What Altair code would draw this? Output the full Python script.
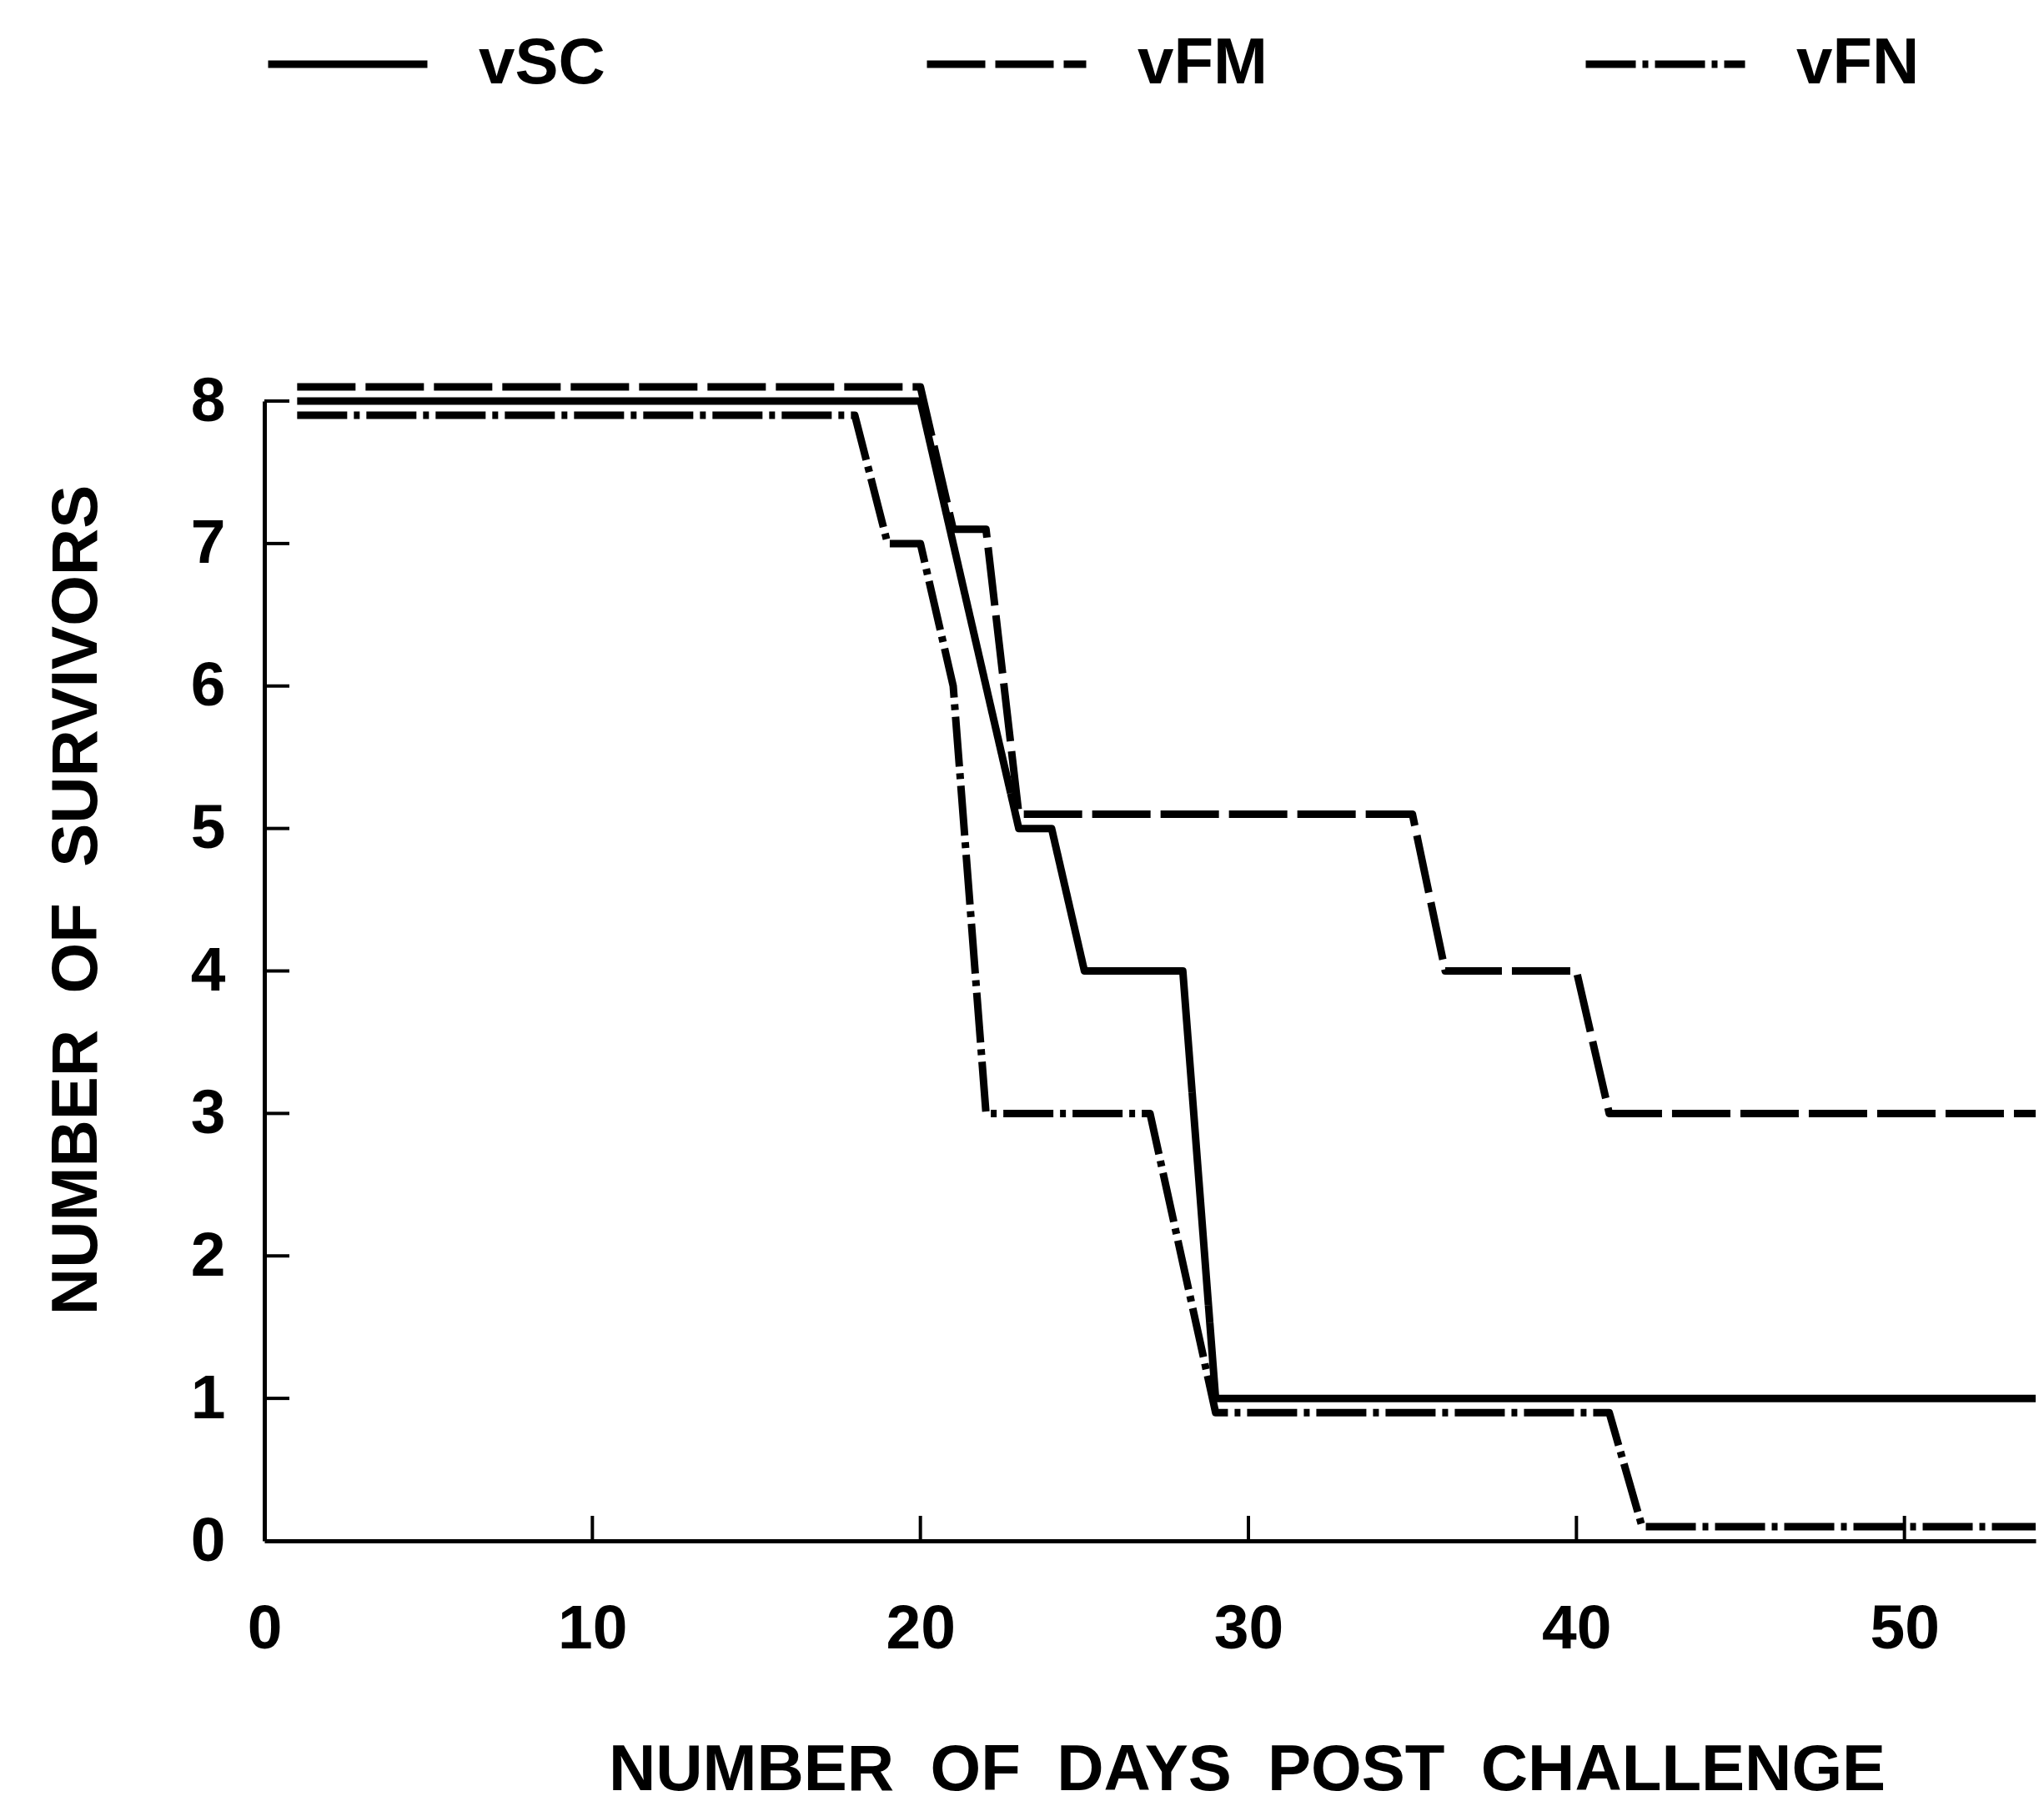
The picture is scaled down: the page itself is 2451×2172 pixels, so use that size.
import altair as alt
import pandas as pd

# ---- data ----
series_names = ["vSC", "vFM", "vFN"]

vsc_days = [1, 20, 23, 24, 25, 28, 29, 54]
vsc_vals = [8.0, 8.0, 5.0, 5.0, 4.0, 4.0, 1.0, 1.0]

vfm_days = [1, 20, 21, 22, 23, 35, 36, 40, 41, 54]
vfm_vals = [8.1, 8.1, 7.1, 7.1, 5.1, 5.1, 4.0, 4.0, 3.0, 3.0]

vfn_days = [1, 18, 19, 20, 21, 22, 27, 29, 41, 42, 54]
vfn_vals = [7.9, 7.9, 7.0, 7.0, 6.0, 3.0, 3.0, 0.9, 0.9, 0.1, 0.1]

x_tick_values = [0, 10, 20, 30, 40, 50]
y_tick_values = [0, 1, 2, 3, 4, 5, 6, 7, 8]

rows = []
for name, days, vals in [("vSC", vsc_days, vsc_vals),
                         ("vFM", vfm_days, vfm_vals),
                         ("vFN", vfn_days, vfn_vals)]:
    for d, v in zip(days, vals):
        rows.append({"series": name, "day": d, "survivors": v})
df = pd.DataFrame(rows)

FONT = "Liberation Sans"
W, H = 2124, 1367
x_scale = alt.Scale(domain=[0, 54], nice=False, zero=False)
y_scale = alt.Scale(domain=[0, 8], nice=False)

x_axis = alt.Axis(values=x_tick_values, ticks=False, grid=False,
                  domainColor="black", domainWidth=5,
                  labelFont=FONT, labelFontSize=75, labelFontWeight="bold",
                  labelColor="black", labelBaseline="top", labelPadding=69,
                  labelFlush=False, labelOverlap=False,
                  title="NUMBER\u00a0\u00a0OF\u00a0\u00a0DAYS\u00a0\u00a0POST\u00a0\u00a0CHALLENGE",
                  titleFont=FONT, titleFontSize=78, titleFontWeight="bold",
                  titleColor="black", titleX=1178, titleY=298,
                  titleAlign="center", titleBaseline="alphabetic")
y_axis = alt.Axis(values=y_tick_values, ticks=False, grid=False,
                  domainColor="black", domainWidth=5,
                  labelFont=FONT, labelFontSize=75, labelFontWeight="bold",
                  labelColor="black", labelPadding=47,
                  labelFlush=False, labelOverlap=False,
                  title="NUMBER\u00a0\u00a0OF\u00a0\u00a0SURVIVORS",
                  titleFont=FONT, titleFontSize=78, titleFontWeight="bold",
                  titleColor="black", titleAngle=270, titleX=-202, titleY=598,
                  titleAlign="center", titleBaseline="alphabetic")

lines = alt.Chart(df).mark_line(
    color="black", strokeWidth=9, strokeJoin="round", strokeCap="butt"
).encode(
    x=alt.X("day:Q", scale=x_scale, axis=x_axis),
    y=alt.Y("survivors:Q", scale=y_scale, axis=y_axis),
    strokeDash=alt.StrokeDash(
        "series:N",
        scale=alt.Scale(domain=series_names,
                        range=[[1, 0], [70, 12], [60, 8, 7, 8]]),
        legend=alt.Legend(orient="none", legendX=0, legendY=-504,
                          direction="horizontal", title=None,
                          symbolType="stroke", symbolSize=36481,
                          symbolStrokeWidth=9, symbolStrokeColor="black",
                          labelFont=FONT, labelFontSize=78, labelFontWeight="bold",
                          labelColor="black", labelOffset=57,
                          columnPadding=363, gridAlign="all", padding=0),
    ),
    detail="series:N",
    order="day:Q",
)

ytick_df = pd.DataFrame({"v": [v for v in y_tick_values if v > 0]})
xtick_df = pd.DataFrame({"v": [v for v in x_tick_values if v > 0]})

yticks = alt.Chart(ytick_df).mark_rule(color="black", strokeWidth=4).encode(
    y=alt.Y("v:Q", scale=y_scale, axis=y_axis),
    x=alt.value(0), x2=alt.value(30),
)
xticks = alt.Chart(xtick_df).mark_rule(color="black", strokeWidth=4).encode(
    x=alt.X("v:Q", scale=x_scale, axis=x_axis),
    y=alt.value(H), y2=alt.value(H - 30),
)

chart = alt.layer(lines, yticks, xticks).properties(
    width=W, height=H,
    autosize=alt.AutoSizeParams(type="none"),
    padding={"left": 309, "top": 473, "right": 2, "bottom": 314},
    background="white",
).configure_view(stroke=None)

chart.save("out.html", embed_options={"renderer": "svg", "actions": False})
